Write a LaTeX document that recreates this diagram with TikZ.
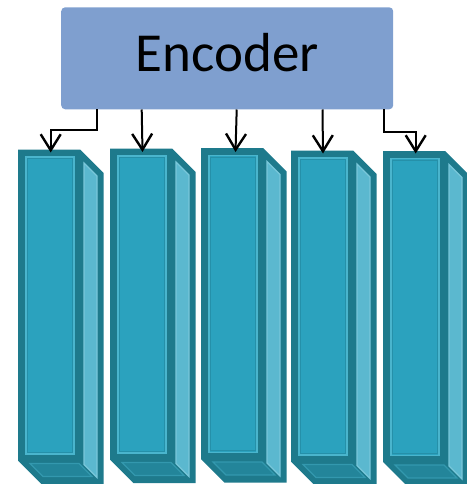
\documentclass[tikz,border=0pt]{standalone}
\usepackage{fontspec}
\setmainfont{Carlito}
\usetikzlibrary{arrows.meta,calc}

\definecolor{encfill}{HTML}{7F9FCF}
\definecolor{tealdark}{HTML}{1E7A8C}
\definecolor{frontfill}{HTML}{2BA2BE}
\definecolor{frontline}{HTML}{4AB5CD}
\definecolor{frontinner}{HTML}{2590A9}
\definecolor{sidefill}{HTML}{5BB8CF}
\definecolor{sideline}{HTML}{79C7DA}
\definecolor{bottomfill}{HTML}{23859A}
\definecolor{bottomline}{HTML}{3398AE}

% prism dimensions: front width, front height, depth
\def\pw{62}
\def\ph{311}
\def\pd{23.5}

\tikzset{
  encbox/.style={fill=encfill, rounded corners=4pt, inner sep=0pt,
    minimum width=332pt, text height=64.7pt, text depth=37.3pt,
    font=\fontsize{55}{60}\selectfont},
  frontface/.style={fill=tealdark, inner sep=0pt, outer sep=0pt,
    minimum width=\pw pt, minimum height=\ph pt},
  feed/.style={draw=black, line width=2pt,
    -{Straight Barb[length=16pt,width=20pt,line width=2.4pt 0 0]}},
}

% one prism: #1,#2 = top-left corner of the front face, #3 = node name
\newcommand\prismbox[3]{%
  \begin{scope}[shift={(#1,#2)}]
    % outline of the whole solid
    \fill[tealdark] (0,0) -- (\pw,0) -- (\pw+\pd,\pd) -- (\pw+\pd,\ph+\pd)
      -- (\pd,\ph+\pd) -- (0,\ph) -- cycle;
    % front face
    \node[frontface] (#3) at (\pw/2,\ph/2) {};
    \filldraw[fill=frontfill, draw=frontline, line width=1.6pt]
      (8,7.5) rectangle (\pw-6,\ph-6.5);
    \draw[frontinner, line width=0.9pt] (9.8,9.3) rectangle (\pw-7.8,\ph-8.3);
    % right side face
    \filldraw[fill=sidefill, draw=sideline, line width=1.1pt]
      (\pw+4,13.5) -- (\pw+\pd-6.5,\pd+3) -- (\pw+\pd-6.5,\ph+\pd-6.5)
      -- (\pw+4,\ph+4) -- cycle;
    % bottom face
    \filldraw[fill=bottomfill, draw=bottomline, line width=1.1pt]
      (12,\ph+3) -- (\pw-1,\ph+3) -- (\pw+12,\ph+16) -- (25,\ph+16) -- cycle;
  \end{scope}}

\begin{document}
\begin{tikzpicture}[x=1pt,y=-1pt]
  \useasboundingbox (0,0) rectangle (466,484);

  \node[encbox] (enc) at (227.2,58.3) {Encoder};

  \prismbox{18}{149.5}{f1}
  \prismbox{110}{148.5}{f2}
  \prismbox{201}{148}{f3}
  \prismbox{291}{150.5}{f4}
  \prismbox{383}{151}{f5}

  % connectors from the encoder to each prism
  \draw[feed] (enc.south -| 96.7,0) |- (50.7,129.5) -- ([yshift=-3pt]f1.north -| 50.7,0);
  \draw[feed] (enc.south -| 141.7,0) -- ([yshift=-3.5pt]f2.north -| 142.5,0);
  \draw[feed] (enc.south -| 236.7,0) -- ([yshift=-4pt]f3.north -| 235.5,0);
  \draw[feed] (enc.south -| 322.5,0) -- ([yshift=-3pt]f4.north -| 323,0);
  \draw[feed] (enc.south -| 384,0) |- (415.7,131.7) -- ([yshift=-2.5pt]f5.north -| 415.7,0);
\end{tikzpicture}
\end{document}
